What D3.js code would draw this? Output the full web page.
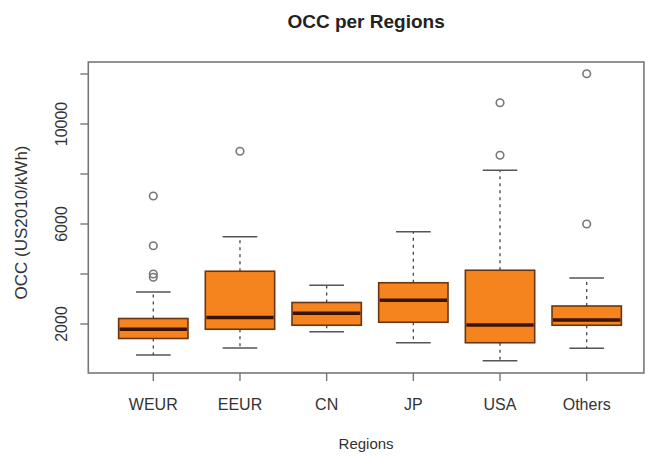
<!DOCTYPE html>
<html>
<head>
<meta charset="utf-8">
<script src="https://cdn.jsdelivr.net/npm/d3@7"></script>
<style>
  html, body { margin: 0; padding: 0; background: #fff; }
  svg { display: block; }
  text { font-family: "Liberation Sans", Arial, sans-serif; fill: #333; }
</style>
</head>
<body>
<svg id="chart" width="648" height="456"></svg>
<script>
// Box statistics per region (OCC, US2010/kWh)
const categories  = ["WEUR", "EEUR", "CN", "JP", "USA", "Others"];
const whiskerLow  = [760, 1040, 1690, 1250, 530, 1030];
const q1          = [1420, 1790, 1950, 2070, 1250, 1950];
const median      = [1790, 2260, 2430, 2950, 1960, 2160];
const q3          = [2220, 4110, 2860, 3650, 4150, 2720];
const whiskerHigh = [3280, 5490, 3550, 5690, 8150, 3840];
const outliers    = [[7120, 5130, 4000, 3870], [8910], [], [], [8750, 10850], [6000, 12010]];
const yTicks      = [2000, 4000, 6000, 8000, 10000, 12000];
const yTickLabels = [2000, 6000, 10000];

const svg = d3.select("#chart");

// positions 1..6 along x, value scale along y
const x = d3.scaleLinear().domain([1, 6]).range([153.3, 586.7]);
const y = d3.scaleLinear().domain([40, 12480]).range([373, 62]);
const unit = x(2) - x(1);
const boxW = unit * 0.8;
const capW = boxW * 0.5;

const x0 = x(0.25), x1 = x(6.66);
const y0 = y.range()[0], y1 = y.range()[1];

const data = categories.map((c, i) => ({
  name: c, pos: i + 1, lo: whiskerLow[i], q1: q1[i], med: median[i],
  q3: q3[i], hi: whiskerHigh[i], out: outliers[i]
}));

const g = svg.append("g");

// whiskers (dashed) and caps
const wk = g.selectAll(".whisker").data(data).enter().append("g");
wk.append("line")
  .attr("x1", d => x(d.pos)).attr("x2", d => x(d.pos))
  .attr("y1", d => y(d.q3)).attr("y2", d => y(d.hi))
  .attr("stroke", "#444").attr("stroke-width", 1.3).attr("stroke-dasharray", "3,4");
wk.append("line")
  .attr("x1", d => x(d.pos)).attr("x2", d => x(d.pos))
  .attr("y1", d => y(d.q1)).attr("y2", d => y(d.lo))
  .attr("stroke", "#444").attr("stroke-width", 1.3).attr("stroke-dasharray", "3,4");
wk.append("line")
  .attr("x1", d => x(d.pos) - capW / 2).attr("x2", d => x(d.pos) + capW / 2)
  .attr("y1", d => y(d.hi)).attr("y2", d => y(d.hi))
  .attr("stroke", "#555").attr("stroke-width", 1.5);
wk.append("line")
  .attr("x1", d => x(d.pos) - capW / 2).attr("x2", d => x(d.pos) + capW / 2)
  .attr("y1", d => y(d.lo)).attr("y2", d => y(d.lo))
  .attr("stroke", "#555").attr("stroke-width", 1.5);

// boxes
g.selectAll(".box").data(data).enter().append("rect")
  .attr("x", d => x(d.pos) - boxW / 2)
  .attr("width", boxW)
  .attr("y", d => y(d.q3))
  .attr("height", d => y(d.q1) - y(d.q3))
  .attr("fill", "#F5841F")
  .attr("stroke", "#6a3510").attr("stroke-width", 1.6);

// medians
g.selectAll(".median").data(data).enter().append("line")
  .attr("x1", d => x(d.pos) - boxW / 2 + 1).attr("x2", d => x(d.pos) + boxW / 2 - 1)
  .attr("y1", d => y(d.med)).attr("y2", d => y(d.med))
  .attr("stroke", "#3a1400").attr("stroke-width", 3.5);

// outliers
data.forEach(d => {
  g.selectAll(null).data(d.out).enter().append("circle")
    .attr("cx", x(d.pos)).attr("cy", v => y(v)).attr("r", 3.8)
    .attr("fill", "none").attr("stroke", "#777").attr("stroke-width", 1.6);
});

// plot frame
svg.append("rect")
  .attr("x", x0).attr("y", y1)
  .attr("width", x1 - x0).attr("height", y0 - y1)
  .attr("fill", "none").attr("stroke", "#777").attr("stroke-width", 1.6);

// y axis ticks and labels
svg.selectAll(".ytick").data(yTicks).enter().append("line")
  .attr("x1", x0 - 8).attr("x2", x0)
  .attr("y1", d => y(d)).attr("y2", d => y(d))
  .attr("stroke", "#777").attr("stroke-width", 1.4);
svg.selectAll(".ylab").data(yTickLabels).enter().append("text")
  .attr("transform", d => `translate(67,${y(d)}) rotate(-90)`)
  .attr("text-anchor", "middle")
  .attr("font-size", 16)
  .text(d => d);

// x axis ticks and labels
svg.selectAll(".xtick").data(data).enter().append("line")
  .attr("x1", d => x(d.pos)).attr("x2", d => x(d.pos))
  .attr("y1", y0).attr("y2", y0 + 8)
  .attr("stroke", "#777").attr("stroke-width", 1.4);
svg.selectAll(".xlab").data(data).enter().append("text")
  .attr("x", d => x(d.pos)).attr("y", 410)
  .attr("text-anchor", "middle")
  .attr("font-size", 16)
  .text(d => d.name);

// titles
const cx = (x0 + x1) / 2;
svg.append("text")
  .attr("x", cx).attr("y", 28)
  .attr("text-anchor", "middle")
  .attr("font-size", 19).attr("font-weight", "bold")
  .style("fill", "#222")
  .text("OCC per Regions");
svg.append("text")
  .attr("x", cx).attr("y", 449)
  .attr("text-anchor", "middle")
  .attr("font-size", 15)
  .text("Regions");
svg.append("text")
  .attr("transform", `translate(27,${(y0 + y1) / 2 + 5}) rotate(-90)`)
  .attr("text-anchor", "middle")
  .attr("font-size", 17)
  .text("OCC (US2010/kWh)");
</script>
</body>
</html>
